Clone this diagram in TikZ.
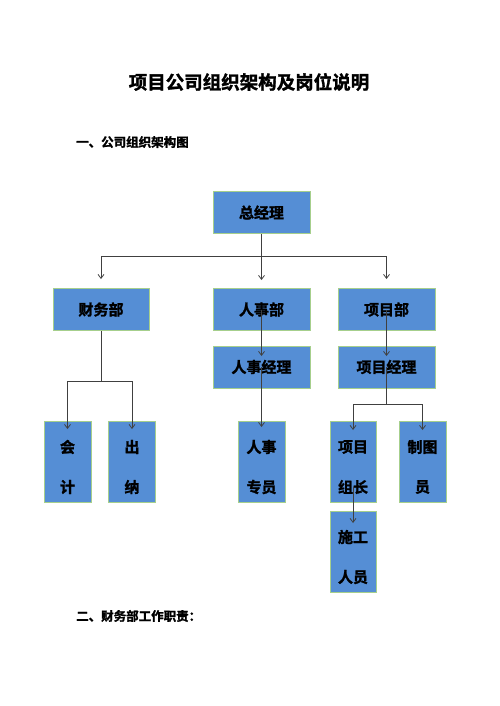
\documentclass[tikz,border=0pt]{standalone}
\usepackage{fontspec}
\newfontfamily\cjk{Noto Sans CJK SC}[BoldFont={Noto Sans CJK SC Bold},BoldFeatures={FakeBold=1.6}]
\usetikzlibrary{arrows.meta}
\definecolor{boxfill}{HTML}{558ED5}
\definecolor{boxline}{HTML}{A6CF8C}
\definecolor{conn}{HTML}{404040}
\begin{document}
\begin{tikzpicture}[x=1pt,y=-1pt,
  box/.style={draw=boxline,line width=0.9pt,fill=boxfill,inner sep=0pt,
    font=\cjk\bfseries\fontsize{15}{18}\selectfont,text=black},
  wbox/.style={box,minimum width=97pt,minimum height=42pt},
  tbox/.style={box,minimum width=47pt,minimum height=81pt},
  lbl/.style={inner sep=0pt,font=\cjk\bfseries\fontsize{15}{18}\selectfont,text=black},
  ln/.style={draw=conn,line width=0.8pt},
  arr/.style={ln,-{Straight Barb[length=4pt,width=6pt]}}]
\useasboundingbox (0,0) rectangle (500,706);
% headings
\node[inner sep=0pt,font=\cjk\bfseries\fontsize{18.5}{22}\selectfont] (title) at (249,82) {项目公司组织架构及岗位说明};
\node[inner sep=0pt,anchor=west,font=\cjk\bfseries\fontsize{12.5}{15}\selectfont] (h1) at (76,142) {一、公司组织架构图};
\node[inner sep=0pt,anchor=west,font=\cjk\bfseries\fontsize{12.5}{15}\selectfont] (h2) at (76,616) {二、财务部工作职责：};
% wide boxes
\node[wbox] (zjl) at (261.5,212.5) {\raisebox{-2pt}{总经理}};
\node[wbox,minimum width=96pt] (cwb) at (101,309.5) {\raisebox{-2pt}{财务部}};
\node[wbox] (rsb) at (261.5,309.5) {\raisebox{-2pt}{人事部}};
\node[wbox] (xmb) at (386.5,309.5) {\raisebox{-2pt}{项目部}};
\node[wbox] (rsjl) at (261.5,367) {\raisebox{-2pt}{人事经理}};
\node[wbox] (xmjl) at (386.5,367) {\raisebox{-2pt}{项目经理}};
% tall boxes
\node[tbox] (kj) at (67.5,461.5) {};
\node[tbox] (cn) at (132,461.5) {};
\node[tbox] (rszy) at (261.5,461.5) {};
\node[tbox,minimum width=46pt] (xmzz) at (353,461.5) {};
\node[tbox] (zty) at (422.5,461.5) {};
\node[tbox,minimum width=46pt] (sgry) at (353,551.5) {};
% tall box labels
\node[lbl] (kja) at (67.5,447) {会};
\node[lbl] (kjb) at (67.5,487) {计};
\node[lbl] (cna) at (132,447) {出};
\node[lbl] (cnb) at (132,487) {纳};
\node[lbl] (rsa) at (261.5,447) {人事};
\node[lbl] (rsbb) at (261.5,487) {专员};
\node[lbl] (xza) at (353,447) {项目};
\node[lbl] (xzb) at (353,487) {组长};
\node[lbl] (zta) at (422.5,447) {制图};
\node[lbl] (ztb) at (422.5,487) {员};
\node[lbl] (sga) at (353,537) {施工};
\node[lbl] (sgb) at (353,577) {人员};
% connector points
\coordinate (b1) at (101,256);
\coordinate (b3) at (386.5,256);
\coordinate (e1) at (101,279);
\coordinate (e2) at (261.5,280);
\coordinate (e3) at (386.5,279);
\coordinate (rsend) at (261.5,356);
\coordinate (rszyend) at (261.5,427);
\coordinate (xmend) at (386.5,356);
\coordinate (xj) at (386.5,404);
\coordinate (xl) at (353,404);
\coordinate (xr) at (422.5,404);
\coordinate (xle) at (353,430);
\coordinate (xre) at (422.5,430);
\coordinate (cj) at (101,381);
\coordinate (cl) at (67.5,381);
\coordinate (cr) at (132,381);
\coordinate (cle) at (67.5,429);
\coordinate (cre) at (132,429);
\coordinate (sgs) at (353,487);
\coordinate (sge) at (353,523);
% connectors
\draw[arr] (zjl.south) -- (e2);
\draw[ln] (b1) -- (b3);
\draw[arr] (b1) -- (e1);
\draw[arr] (b3) -- (e3);
\draw[arr] (rsb.center) -- (rsend);
\draw[arr] (rsjl.center) -- (rszyend);
\draw[arr] (xmb.center) -- (xmend);
\draw[ln] (xmjl.center) -- (xj);
\draw[ln] (xl) -- (xr);
\draw[arr] (xl) -- (xle);
\draw[arr] (xr) -- (xre);
\draw[ln] (cwb.south) -- (cj);
\draw[ln] (cl) -- (cr);
\draw[arr] (cl) -- (cle);
\draw[arr] (cr) -- (cre);
\draw[arr] (sgs) -- (sge);
\end{tikzpicture}
\end{document}
